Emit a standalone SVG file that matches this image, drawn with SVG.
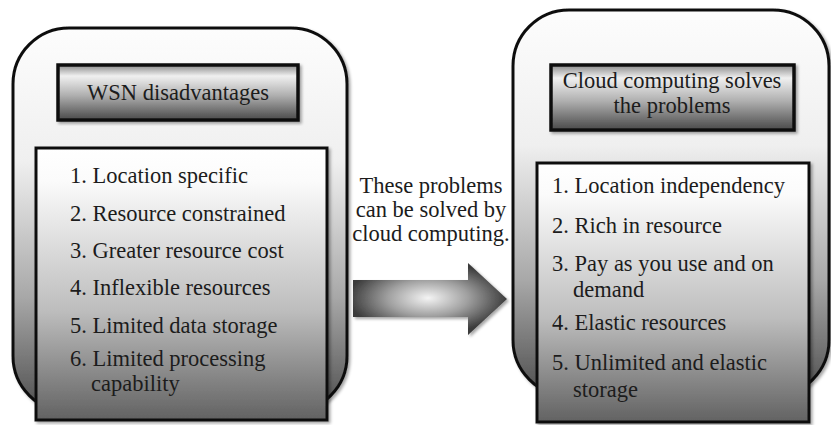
<svg xmlns="http://www.w3.org/2000/svg" width="831" height="425" viewBox="0 0 831 425" font-family="'Liberation Serif', 'DejaVu Serif', serif">
  <defs>
    <linearGradient id="gOuter" x1="0" y1="0" x2="0" y2="1">
      <stop offset="0" stop-color="#fdfdfd"/>
      <stop offset="0.35" stop-color="#efefef"/>
      <stop offset="0.7" stop-color="#a8a8a8"/>
      <stop offset="1" stop-color="#4e4e4e"/>
    </linearGradient>
    <linearGradient id="gList" x1="0" y1="0" x2="0" y2="1">
      <stop offset="0" stop-color="#ffffff"/>
      <stop offset="0.12" stop-color="#fbfbfb"/>
      <stop offset="0.6" stop-color="#bdbdbd"/>
      <stop offset="1" stop-color="#626262"/>
    </linearGradient>
    <linearGradient id="gHead" x1="0" y1="0" x2="0" y2="1">
      <stop offset="0" stop-color="#8a8a8a"/>
      <stop offset="0.2" stop-color="#f0f0f0"/>
      <stop offset="0.55" stop-color="#b0b0b0"/>
      <stop offset="1" stop-color="#4a4a4a"/>
    </linearGradient>
    <radialGradient id="gArrow" gradientUnits="userSpaceOnUse" cx="428" cy="298" r="80" gradientTransform="translate(428 298) scale(1 0.45) translate(-428 -298)">
      <stop offset="0" stop-color="#f4f4f4"/>
      <stop offset="0.5" stop-color="#a0a0a0"/>
      <stop offset="1" stop-color="#3a3a3a"/>
    </radialGradient>
    <filter id="shadow" x="-10%" y="-10%" width="120%" height="120%">
      <feDropShadow dx="2" dy="2" stdDeviation="1.5" flood-color="#000" flood-opacity="0.35"/>
    </filter>
  </defs>
  <style>
    .outer { fill: url(#gOuter); stroke: #111; stroke-width: 3; }
    .list { fill: url(#gList); stroke: #111; stroke-width: 3; }
    .head { fill: url(#gHead); stroke: #111; stroke-width: 3.5; }
    .t { font-family: 'Liberation Serif', 'DejaVu Serif', serif; font-size: 22.5px; fill: #1c1c1c; }
    .c { text-anchor: middle; }
  </style>

  <!-- left panel: WSN disadvantages -->
  <g id="wsn">
    <rect class="outer" x="13" y="28" width="334" height="384" rx="56" ry="56" filter="url(#shadow)"/>
    <rect class="head" x="58" y="65" width="240" height="55" filter="url(#shadow)"/>
    <text class="t c" x="178" y="100">WSN disadvantages</text>
    <rect class="list" x="36" y="148" width="291" height="272" filter="url(#shadow)"/>
    <text class="t" x="70" y="183">1. Location specific</text>
    <text class="t" x="70" y="221">2. Resource constrained</text>
    <text class="t" x="70" y="258">3. Greater resource cost</text>
    <text class="t" x="70" y="295">4. Inflexible resources</text>
    <text class="t" x="70" y="333">5. Limited data storage</text>
    <text class="t" x="70" y="366">6. Limited processing</text>
    <text class="t" x="91" y="391">capability</text>
  </g>

  <!-- right panel: cloud computing -->
  <g id="cloud">
    <rect class="outer" x="513" y="10" width="316" height="386" rx="56" ry="56" filter="url(#shadow)"/>
    <rect class="head" x="551" y="65" width="243" height="65" filter="url(#shadow)"/>
    <text class="t c" x="672" y="88">Cloud computing solves</text>
    <text class="t c" x="672" y="113">the problems</text>
    <rect class="list" x="537" y="163" width="272" height="259" filter="url(#shadow)"/>
    <text class="t" x="552" y="193">1. Location independency</text>
    <text class="t" x="552" y="233">2. Rich in resource</text>
    <text class="t" x="552" y="271">3. Pay as you use and on</text>
    <text class="t" x="573" y="297">demand</text>
    <text class="t" x="552" y="330">4. Elastic resources</text>
    <text class="t" x="552" y="370">5. Unlimited and elastic</text>
    <text class="t" x="573" y="397">storage</text>
  </g>

  <!-- connector: block arrow with caption -->
  <g id="connectors">
    <path d="M353 280 L468 280 L468 263 L507 299 L468 335 L468 317 L353 317 Z" fill="url(#gArrow)" filter="url(#shadow)"/>
    <text class="t c" x="431" y="193">These problems</text>
    <text class="t c" x="431" y="217">can be solved by</text>
    <text class="t c" x="431" y="241">cloud computing.</text>
  </g>
</svg>
